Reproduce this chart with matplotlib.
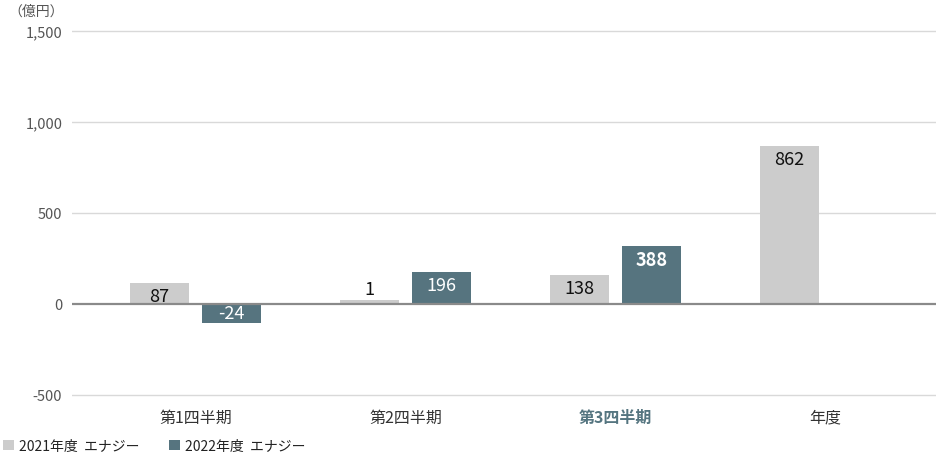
import matplotlib
matplotlib.use("Agg")
import matplotlib.pyplot as plt
import numpy as np
from matplotlib.patches import Patch

plt.rcParams['font.family'] = ['Noto Sans CJK JP', 'DejaVu Sans']

categories = ['第1四半期', '第2四半期', '第3四半期', '年度']
series_names = ['2021年度  エナジー', '2022年度  エナジー']
# bar heights as drawn in the picture
h2021 = [112, 18, 158, 870]
h2022 = [-105, 175, 318, 3]
# value labels as printed
lab2021 = ['87', '1', '138', '862']
lab2022 = ['-24', '196', '388', '']
yticks = [-500, 0, 500, 1000, 1500]
ytick_labels = ['-500', '0', '500', '1,000', '1,500']

c2021 = '#cccccc'
c2022 = '#56747f'

W, H = 936, 456
fig = plt.figure(figsize=(W / 100, H / 100), dpi=100)

# y mapping: 1500 -> 32 px, -500 -> 395 px
y_top_px, y_bot_px = 32.0, 395.5
ppu = (y_bot_px - y_top_px) / 2000.0
ylo, yhi = -540, 1540
ax_top_px = y_top_px - (yhi - 1500) * ppu
ax_bot_px = y_bot_px + (ylo + 500) * -ppu
ax_left_px, ax_right_px = 72, 936
ax = fig.add_axes([ax_left_px / W, 1 - ax_bot_px / H,
                   (ax_right_px - ax_left_px) / W, (ax_bot_px - ax_top_px) / H])

# x: centers at 195.5 + 210*i px
step_px = 210.0
c0_px = 195.5
xlo = (ax_left_px - c0_px) / step_px
xhi = (ax_right_px - c0_px) / step_px
ax.set_xlim(xlo, xhi)
ax.set_ylim(ylo, yhi)

bw = 59 / step_px
off = 36 / step_px
x = np.arange(len(categories))

for v in yticks:
    if v == 0:
        continue
    ax.axhline(v, color='#d9d9d9', lw=1.0, zorder=0)

ax.bar(x - off, h2021, width=bw, color=c2021, zorder=2)
ax.bar(x + off, h2022, width=bw, color=c2022, zorder=2)
ax.axhline(0, color='#8a8a8a', lw=1.6, zorder=3)

def put_labels(xs, hs, labs, color, bold_idx=None):
    for i, (xx, hh, lb) in enumerate(zip(xs, hs, labs)):
        if not lb:
            continue
        px = abs(hh) * ppu
        weight = 'bold' if (bold_idx is not None and i == bold_idx) else 'normal'
        if px < 12:
            ax.annotate(lb, (xx, hh), xytext=(0, 8.5), textcoords='offset points',
                        ha='center', va='center', fontsize=13, color='#111111', zorder=4)
        elif hh >= 0:
            ax.annotate(lb, (xx, hh), xytext=(0, -9.5), textcoords='offset points',
                        ha='center', va='center', fontsize=13, color=color,
                        fontweight=weight, zorder=4)
        else:
            ax.annotate(lb, (xx, hh), xytext=(0, 7), textcoords='offset points',
                        ha='center', va='center', fontsize=13, color=color,
                        fontweight=weight, zorder=4)

put_labels(x - off, h2021, lab2021, '#111111')
put_labels(x + off, h2022, lab2022, '#ffffff', bold_idx=2)

for s in ax.spines.values():
    s.set_visible(False)
ax.set_yticks(yticks)
ax.set_yticklabels(ytick_labels, fontsize=10.5, color='#555555')
ax.tick_params(axis='y', length=0, pad=7)
ax.set_xticks(x)
ax.set_xticklabels(categories, fontsize=11.5, color='#333333')
ax.tick_params(axis='x', length=0, pad=5)
for i, t in enumerate(ax.get_xticklabels()):
    if i == 2:
        t.set_color('#557580')
        t.set_fontweight('bold')

fig.text(64 / W, 1 - 12 / H, '（億円）', ha='right', va='center', fontsize=10, color='#555555')

# legend
handles = [Patch(facecolor=c2021, edgecolor='none'), Patch(facecolor=c2022, edgecolor='none')]
fig.legend(handles, series_names, loc='center left', bbox_to_anchor=(3 / W, 1 - 447 / H),
           ncol=2, frameon=False, fontsize=10, handlelength=0.8, handleheight=0.8,
           handletextpad=0.35, columnspacing=2.1, borderpad=0, borderaxespad=0,
           labelcolor='#222222')

fig.savefig('out.png', dpi=100)
